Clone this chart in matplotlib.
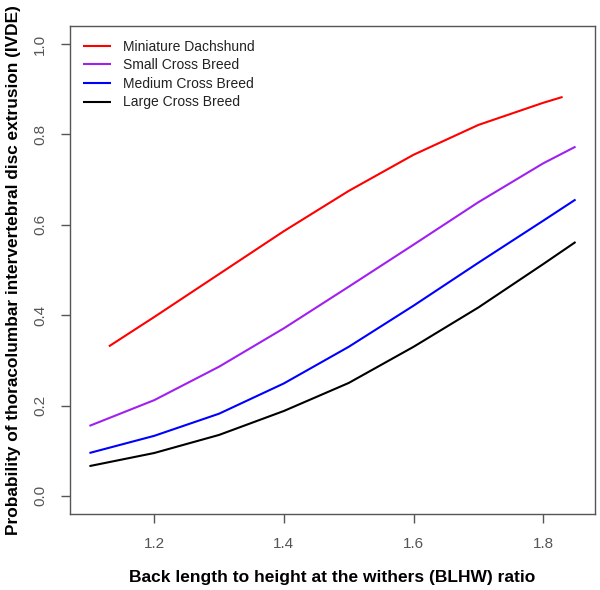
import matplotlib
matplotlib.use("Agg")
import matplotlib.pyplot as plt

plt.rcParams["font.family"] = ["Liberation Sans", "DejaVu Sans"]

# BLHW ratio values
blhw = [1.10, 1.20, 1.30, 1.40, 1.50, 1.60, 1.70, 1.80, 1.85]
blhw_dachs = [1.13, 1.20, 1.30, 1.40, 1.50, 1.60, 1.70, 1.80, 1.83]

p_dachshund = [0.331, 0.396, 0.491, 0.586, 0.675, 0.755, 0.821, 0.870, 0.883]
p_small = [0.155, 0.212, 0.286, 0.371, 0.463, 0.556, 0.650, 0.736, 0.773]
p_medium = [0.095, 0.133, 0.182, 0.249, 0.330, 0.421, 0.516, 0.609, 0.656]
p_large = [0.066, 0.095, 0.135, 0.188, 0.250, 0.330, 0.417, 0.513, 0.562]

labels = ["Miniature Dachshund", "Small Cross Breed", "Medium Cross Breed", "Large Cross Breed"]
colors = ["#ff0000", "#a020f0", "#0000ff", "#000000"]

fig = plt.figure(figsize=(6.0, 5.9), dpi=100)
ax = fig.add_axes([70 / 600, 1 - 514 / 590, 525 / 600, 488 / 590])

series = [(blhw_dachs, p_dachshund), (blhw, p_small), (blhw, p_medium), (blhw, p_large)]
for (xs, ys), lab, col in zip(series, labels, colors):
    ax.plot(xs, ys, color=col, lw=1.5, label=lab, solid_capstyle="butt")

ax.set_xlim(1.07, 1.88)
ax.set_ylim(-0.04, 1.04)
ax.set_xticks([1.2, 1.4, 1.6, 1.8])
ax.set_yticks([0.0, 0.2, 0.4, 0.6, 0.8, 1.0])
ax.set_xticklabels(["1.2", "1.4", "1.6", "1.8"])
ax.set_yticklabels(["0.0", "0.2", "0.4", "0.6", "0.8", "1.0"], rotation=90, va="center")

for s in ax.spines.values():
    s.set_color("#555555")
    s.set_linewidth(1.0)
ax.tick_params(direction="out", length=6.5, width=1.0, color="#555555",
               labelsize=11, labelcolor="#555555", pad=10)

ax.set_xlabel("Back length to height at the withers (BLHW) ratio",
              fontsize=12.5, fontweight="bold", labelpad=14)
ax.set_ylabel("Probability of thoracolumbar intervertebral disc extrusion (IVDE)",
              fontsize=12.4, fontweight="bold", labelpad=9)

leg = ax.legend(loc="upper left", bbox_to_anchor=(0.025, 0.972), frameon=False,
                fontsize=10, handlelength=2.0, handletextpad=0.85,
                labelspacing=0.33, borderpad=0, borderaxespad=0)
for t in leg.get_texts():
    t.set_color("#222222")

fig.savefig("out.png", dpi=100)
